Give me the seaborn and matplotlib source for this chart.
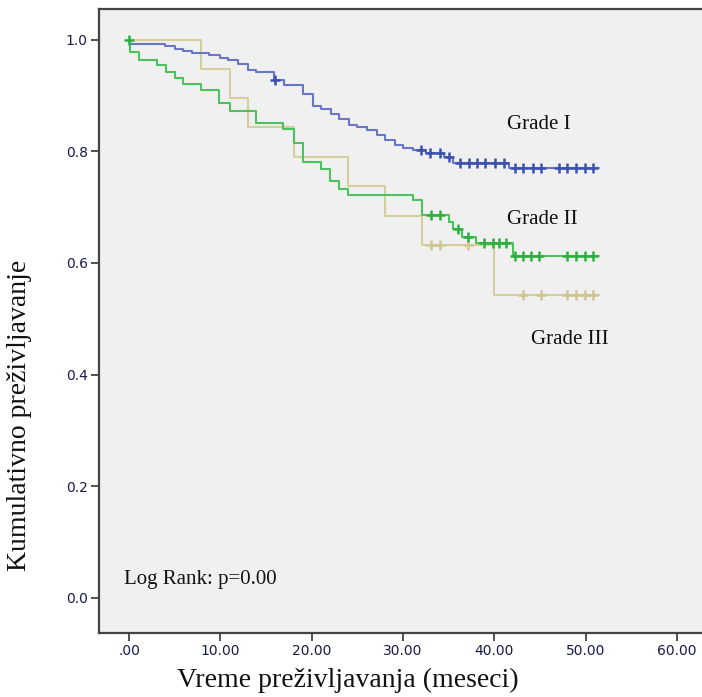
import numpy as np
import pandas as pd
import matplotlib
matplotlib.use("Agg")
import matplotlib.pyplot as plt
import seaborn as sns

# ---- data ----
groups = ["Grade I", "Grade II", "Grade III"]

g1_times = [0.1, 3.9, 5.0, 5.9, 6.9, 8.8, 9.9, 10.8, 11.9, 13.0, 13.9, 15.9, 17.0,
            19.0, 20.1, 21.0, 22.1, 23.0, 24.1, 25.0, 26.1, 27.1, 28.0, 29.1, 30.0,
            31.1, 32.5, 34.5, 35.5, 41.6]
g1_surv = [0.992, 0.988, 0.984, 0.980, 0.976, 0.972, 0.968, 0.964, 0.956, 0.946, 0.943,
           0.927, 0.919, 0.903, 0.882, 0.875, 0.867, 0.858, 0.848, 0.843, 0.839, 0.830,
           0.821, 0.812, 0.806, 0.802, 0.797, 0.790, 0.779, 0.770]
g1_cens = [16.0, 32.0, 33.0, 34.0, 35.0, 36.2, 37.2, 38.1, 39.0, 40.1, 41.1, 42.2, 43.1,
           44.2, 45.1, 47.1, 48.0, 48.9, 49.9, 50.8]

g2_times = [0.1, 1.1, 3.0, 4.0, 5.0, 5.9, 7.9, 9.8, 11.0, 13.9, 16.9, 18.0, 19.0, 21.0,
            22.0, 23.0, 24.0, 31.1, 32.1, 35.0, 35.5, 36.5, 38.0, 42.0]
g2_surv = [0.978, 0.964, 0.955, 0.943, 0.931, 0.921, 0.909, 0.887, 0.873, 0.851, 0.840,
           0.815, 0.780, 0.768, 0.746, 0.733, 0.722, 0.712, 0.686, 0.674, 0.661, 0.647,
           0.636, 0.613]
g2_cens = [0.0, 33.1, 34.0, 36.0, 37.1, 38.9, 39.8, 40.5, 41.3, 42.2, 43.1, 44.0, 44.9,
           48.0, 48.9, 49.9, 50.8]

g3_times = [7.9, 11.0, 13.0, 18.0, 24.0, 28.0, 32.1, 40.0]
g3_surv = [0.948, 0.895, 0.843, 0.790, 0.737, 0.685, 0.633, 0.543]
g3_cens = [33.1, 34.0, 37.1, 43.1, 45.1, 48.0, 48.9, 49.9, 50.8]

end_time = 51.5

x_ticks = [0, 10, 20, 30, 40, 50, 60]
x_tick_labels = [".00", "10.00", "20.00", "30.00", "40.00", "50.00", "60.00"]
y_ticks = [0.0, 0.2, 0.4, 0.6, 0.8, 1.0]
y_tick_labels = ["0.0", "0.2", "0.4", "0.6", "0.8", "1.0"]

# ---- build tables ----
series = {
    "Grade I": (g1_times, g1_surv, g1_cens),
    "Grade II": (g2_times, g2_surv, g2_cens),
    "Grade III": (g3_times, g3_surv, g3_cens),
}
line_rows, cens_rows = [], []
for g, (t, s, c) in series.items():
    tt = [0.0] + list(t) + [end_time]
    ss = [1.0] + list(s) + [s[-1]]
    for a, b in zip(tt, ss):
        line_rows.append({"time": a, "surv": b, "grade": g})
    tt_arr = np.array([0.0] + list(t))
    ss_arr = np.array([1.0] + list(s))
    for ci in c:
        idx = np.searchsorted(tt_arr, ci, side="right") - 1
        cens_rows.append({"time": ci, "surv": ss_arr[idx], "grade": g})
lines = pd.DataFrame(line_rows)
cens = pd.DataFrame(cens_rows)

line_pal = {"Grade I": "#6878C6", "Grade II": "#4CC25C", "Grade III": "#D6CE9C"}
mark_pal = {"Grade I": "#3A52AE", "Grade II": "#2EAF40", "Grade III": "#CFC592"}

# ---- figure ----
sns.set_theme(style="white")
plt.rcParams["font.family"] = ["DejaVu Sans"]

W, H = 702, 697
fig = plt.figure(figsize=(W / 100, H / 100), dpi=100)
ax = fig.add_axes([99 / W, (H - 633) / H, (W - 99) / W + 0.01, (633 - 9) / H])
ax.set_facecolor("#F0F0F0")

for g in ["Grade III", "Grade II", "Grade I"]:
    sns.lineplot(data=lines[lines.grade == g], x="time", y="surv", color=line_pal[g],
                 drawstyle="steps-post", estimator=None, sort=False, lw=1.5,
                 legend=False, ax=ax)
for g in ["Grade III", "Grade II", "Grade I"]:
    sns.scatterplot(data=cens[cens.grade == g], x="time", y="surv", marker="+",
                    color=mark_pal[g], s=60, linewidth=1.8, legend=False, ax=ax, zorder=3)

ax.set_xlim(-3.3, 63.5)
ax.set_ylim(-0.063, 1.055)
ax.set_xticks(x_ticks)
ax.set_xticklabels(x_tick_labels)
ax.set_yticks(y_ticks)
ax.set_yticklabels(y_tick_labels)
ax.tick_params(axis="both", direction="out", length=6, width=1.2, color="#333333",
               labelsize=10, labelcolor="#1A1A4A", pad=2)
ax.tick_params(axis="x", bottom=True)
ax.tick_params(axis="y", left=True)

for side in ["left", "bottom", "top"]:
    ax.spines[side].set_color("#444444")
    ax.spines[side].set_linewidth(1.6)
ax.spines["right"].set_visible(False)

serif = ["Liberation Serif", "DejaVu Serif"]
ax.set_xlabel("Vreme preživljavanja (meseci)", family=serif, fontsize=20, color="#111111",
              va="center", ha="center")
ax.xaxis.set_label_coords((345 - 99) / 603, (633 - 680) / 624)
ax.set_ylabel("Kumulativno preživljavanje", family=serif, fontsize=20, color="#111111",
              va="center", ha="center")
ax.yaxis.set_label_coords((20 - 99) / 603, (633 - 415) / 624)

ax.text(41.4, 0.848, "Grade I", family=serif, fontsize=15, va="center", ha="left", color="#111111")
ax.text(41.4, 0.677, "Grade II", family=serif, fontsize=15, va="center", ha="left", color="#111111")
ax.text(44.0, 0.462, "Grade III", family=serif, fontsize=15, va="center", ha="left", color="#111111")
ax.text(-0.6, 0.032, "Log Rank: p=0.00", family=serif, fontsize=15, va="center", ha="left", color="#111111")

fig.savefig("out.png", dpi=100, facecolor="white")
